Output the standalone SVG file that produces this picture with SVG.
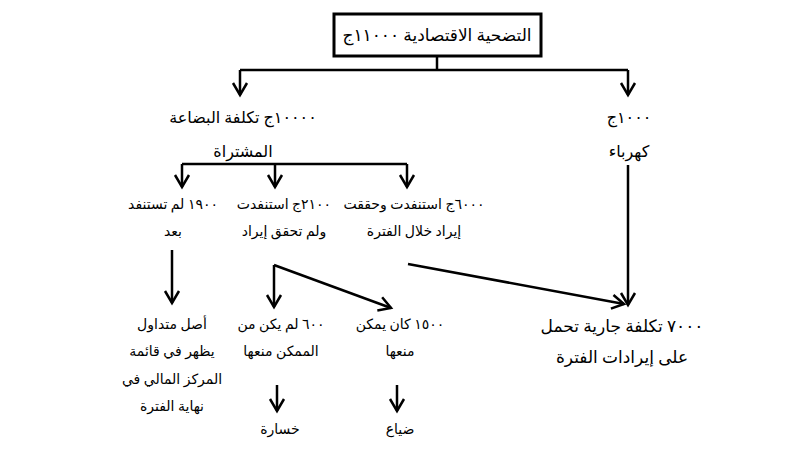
<svg xmlns="http://www.w3.org/2000/svg" width="800" height="452" viewBox="0 0 800 452">
<defs>
<style>
text{font-family:"Liberation Serif","DejaVu Sans",serif;fill:#000;direction:rtl;text-anchor:middle;}
.s{font-size:14px;}
.m{font-size:16px;}
.l{font-size:17px;}
.c{stroke:#000;stroke-width:2.5;fill:none;}
</style>
<marker id="ah" markerUnits="userSpaceOnUse" viewBox="-14 -10 16 20" refX="0" refY="0" markerWidth="16" markerHeight="20" orient="auto" overflow="visible">
<path d="M-12,-7 L0,0 L-12,7" fill="none" stroke="#000" stroke-width="2.5"/>
</marker>
</defs>
<rect width="800" height="452" fill="#fff"/>
<g id="connectors">
<path class="c" d="M437,56 V70"/>
<path class="c" d="M240,70 H628"/>
<path class="c" d="M240,70 V95" marker-end="url(#ah)"/>
<path class="c" d="M628,70 V95" marker-end="url(#ah)"/>
<path class="c" d="M182,164 H407"/>
<path class="c" d="M182,164 V187" marker-end="url(#ah)"/>
<path class="c" d="M275,164 V187" marker-end="url(#ah)"/>
<path class="c" d="M407,164 V187" marker-end="url(#ah)"/>
<path class="c" d="M628,165 V305" marker-end="url(#ah)"/>
<path class="c" d="M172,250 V303" marker-end="url(#ah)"/>
<path class="c" d="M274,265 V307" marker-end="url(#ah)"/>
<path class="c" d="M274,265 L391,308" marker-end="url(#ah)"/>
<path class="c" d="M408,264 L624,304" marker-end="url(#ah)"/>
<path class="c" d="M277,385 V411" marker-end="url(#ah)"/>
<path class="c" d="M397,385 V411" marker-end="url(#ah)"/>
</g>
<g id="root">
<rect x="334" y="14" width="207" height="42" fill="#fff" stroke="#000" stroke-width="3"/>
<text class="l" x="437" y="41">التضحية الاقتصادية ١١٠٠٠ج</text>
</g>
<g id="goods">
<text class="m" x="243" y="123">١٠٠٠٠ج تكلفة البضاعة</text>
<text class="m" x="243" y="157">المشتراة</text>
</g>
<g id="electricity">
<text class="m" x="629" y="123">١٠٠٠ج</text>
<text class="m" x="629" y="157">كهرباء</text>
</g>
<g id="unused">
<text class="s" x="173" y="209">١٩٠٠ لم تستنفد</text>
<text class="s" x="173" y="236">بعد</text>
</g>
<g id="used-norevenue">
<text class="s" x="284" y="209">٢١٠٠ج استنفدت</text>
<text class="s" x="284" y="236">ولم تحقق إيراد</text>
</g>
<g id="used-revenue">
<text class="s" x="414" y="209">٦٠٠٠ج استنفدت وحققت</text>
<text class="s" x="414" y="236">إيراد خلال الفترة</text>
</g>
<g id="asset">
<text class="s" x="172" y="329">أصل متداول</text>
<text class="s" x="172" y="356">يظهر في قائمة</text>
<text class="s" x="172" y="384">المركز المالي في</text>
<text class="s" x="172" y="411">نهاية الفترة</text>
</g>
<g id="unavoidable">
<text class="s" x="281" y="329">٦٠٠ لم يكن من</text>
<text class="s" x="281" y="356">الممكن منعها</text>
</g>
<g id="avoidable">
<text class="s" x="400" y="329">١٥٠٠ كان يمكن</text>
<text class="s" x="400" y="356">منعها</text>
</g>
<g id="current-cost">
<text class="l" x="622" y="332">٧٠٠٠ تكلفة جارية تحمل</text>
<text class="l" x="622" y="363">على إيرادات الفترة</text>
</g>
<g id="loss">
<text class="s" x="280" y="434">خسارة</text>
</g>
<g id="waste">
<text class="s" x="400" y="434">ضياع</text>
</g>
</svg>
